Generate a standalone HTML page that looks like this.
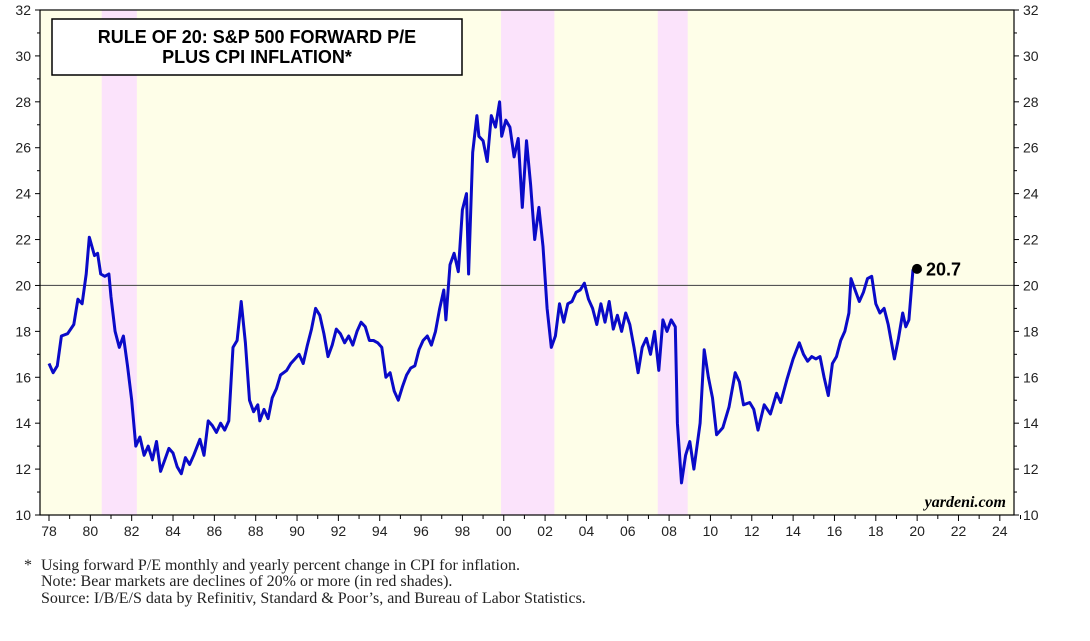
<!DOCTYPE html>
<html><head><meta charset="utf-8">
<style>
body{margin:0;background:#fff;width:1090px;height:636px;overflow:hidden;font-family:"Liberation Sans",sans-serif}
svg text{font-family:"Liberation Sans",sans-serif}
svg text.serif{font-family:"Liberation Serif",serif}
</style></head>
<body>
<svg id="chart" width="1090" height="636" xmlns="http://www.w3.org/2000/svg"></svg>
<script>
const years=[1978.0,1978.2,1978.4,1978.6,1978.9,1979.2,1979.4,1979.6,1979.8,1979.95,1980.2,1980.35,1980.5,1980.7,1980.9,1981.0,1981.2,1981.4,1981.6,1981.8,1982.0,1982.2,1982.4,1982.6,1982.8,1983.0,1983.2,1983.4,1983.6,1983.8,1984.0,1984.2,1984.4,1984.6,1984.8,1985.0,1985.3,1985.5,1985.7,1985.9,1986.1,1986.3,1986.5,1986.7,1986.9,1987.1,1987.3,1987.5,1987.7,1987.9,1988.1,1988.2,1988.4,1988.6,1988.8,1989.0,1989.2,1989.5,1989.7,1989.9,1990.1,1990.3,1990.5,1990.7,1990.9,1991.1,1991.3,1991.5,1991.7,1991.9,1992.1,1992.3,1992.5,1992.7,1992.9,1993.1,1993.3,1993.5,1993.7,1993.9,1994.1,1994.3,1994.5,1994.7,1994.9,1995.1,1995.3,1995.5,1995.7,1995.9,1996.1,1996.3,1996.5,1996.7,1996.9,1997.1,1997.2,1997.4,1997.6,1997.8,1998.0,1998.2,1998.3,1998.5,1998.7,1998.8,1999.0,1999.2,1999.4,1999.6,1999.8,1999.9,2000.1,2000.3,2000.5,2000.7,2000.9,2001.1,2001.3,2001.5,2001.7,2001.9,2002.1,2002.3,2002.5,2002.7,2002.9,2003.1,2003.3,2003.5,2003.7,2003.9,2004.1,2004.3,2004.5,2004.7,2004.9,2005.1,2005.3,2005.5,2005.7,2005.9,2006.1,2006.3,2006.5,2006.7,2006.9,2007.1,2007.3,2007.5,2007.7,2007.9,2008.1,2008.3,2008.4,2008.6,2008.8,2009.0,2009.2,2009.5,2009.7,2009.9,2010.1,2010.3,2010.6,2010.9,2011.2,2011.4,2011.6,2011.9,2012.1,2012.3,2012.6,2012.9,2013.2,2013.4,2013.7,2014.0,2014.3,2014.5,2014.7,2014.9,2015.1,2015.3,2015.5,2015.7,2015.9,2016.1,2016.3,2016.5,2016.7,2016.8,2017.0,2017.2,2017.4,2017.6,2017.8,2018.0,2018.2,2018.4,2018.6,2018.9,2019.1,2019.3,2019.45,2019.6,2019.8];
const values=[16.6,16.2,16.5,17.8,17.9,18.3,19.4,19.2,20.5,22.1,21.3,21.4,20.5,20.4,20.5,19.5,18.0,17.3,17.8,16.5,15.0,13.0,13.4,12.6,13.0,12.4,13.2,11.9,12.4,12.9,12.7,12.1,11.8,12.5,12.2,12.6,13.3,12.6,14.1,13.9,13.6,14.0,13.7,14.1,17.3,17.6,19.3,17.5,15.0,14.5,14.8,14.1,14.6,14.2,15.1,15.5,16.1,16.3,16.6,16.8,17.0,16.6,17.4,18.1,19.0,18.7,17.9,16.9,17.4,18.1,17.9,17.5,17.8,17.4,18.0,18.4,18.2,17.6,17.6,17.5,17.3,16.0,16.2,15.4,15.0,15.6,16.1,16.4,16.5,17.2,17.6,17.8,17.4,18.0,19.0,19.8,18.5,20.9,21.4,20.6,23.3,24.0,20.5,25.8,27.4,26.5,26.3,25.4,27.4,26.9,28.0,26.5,27.2,26.9,25.6,26.4,23.4,26.3,24.4,22.0,23.4,21.7,19.0,17.3,17.8,19.2,18.4,19.2,19.3,19.7,19.8,20.1,19.4,19.0,18.3,19.2,18.4,19.3,18.1,18.7,18.0,18.8,18.3,17.3,16.2,17.3,17.7,17.0,18.0,16.3,18.5,18.0,18.5,18.2,14.0,11.4,12.6,13.2,12.0,14.0,17.2,16.0,15.1,13.5,13.8,14.7,16.2,15.8,14.8,14.9,14.6,13.7,14.8,14.4,15.3,14.9,15.9,16.8,17.5,17.0,16.7,16.9,16.8,16.9,16.0,15.2,16.6,16.9,17.6,18.0,18.8,20.3,19.8,19.3,19.7,20.3,20.4,19.2,18.8,19.0,18.3,16.8,17.7,18.8,18.2,18.5,20.7];
const bearStarts=[1980.55,1999.87,2007.45];
const bearEnds=[1982.25,2002.45,2008.9];
const yTicks=[10,12,14,16,18,20,22,24,26,28,30,32];
const xTickYears=[1978,1980,1982,1984,1986,1988,1990,1992,1994,1996,1998,2000,2002,2004,2006,2008,2010,2012,2014,2016,2018,2020,2022,2024];
const xTickLabels=["78","80","82","84","86","88","90","92","94","96","98","00","02","04","06","08","10","12","14","16","18","20","22","24"];
const lastLabel="20.7";

const L=40,R=1014,T=10,B=515;
const xs=y=>49+(y-1978)*20.67;
const ys=v=>B-(v-10)*(B-T)/22;
const svg=document.getElementById('chart');
const NS='http://www.w3.org/2000/svg';
function mk(tag,attrs,parent){const e=document.createElementNS(NS,tag);for(const k in attrs)e.setAttribute(k,attrs[k]);(parent||svg).appendChild(e);return e;}

const bg=mk('rect',{x:L,y:T,width:R-L,height:B-T,fill:'#fefee8'});


for(let i=0;i<bearStarts.length;i++){
  const r=mk('rect',{x:xs(bearStarts[i]),y:T,width:xs(bearEnds[i])-xs(bearStarts[i]),height:B-T,fill:'#fbe3fb'});
  
  
}
const ref=mk('line',{x1:L,x2:R,y1:ys(20),y2:ys(20),stroke:'#555',"stroke-width":1.2});


yTicks.forEach(v=>{
  const y=ys(v);
  mk('line',{x1:L-5,x2:L,y1:y,y2:y,stroke:'#000'});
  mk('line',{x1:R,x2:R+5,y1:y,y2:y,stroke:'#000'});
  if(v<32){mk('line',{x1:L-3,x2:L,y1:ys(v+1),y2:ys(v+1),stroke:'#000'});mk('line',{x1:R,x2:R+3,y1:ys(v+1),y2:ys(v+1),stroke:'#000'});}
  const t1=mk('text',{x:L-9,y:y+5,"text-anchor":"end","font-size":14,fill:'#222'});t1.textContent=v;
  
  
  const t2=mk('text',{x:R+9,y:y+5,"font-size":14,fill:'#222'});t2.textContent=v;
  
  
});
xTickYears.forEach((yr,i)=>{
  const x=xs(yr);
  mk('line',{x1:x,x2:x,y1:B,y2:B+6,stroke:'#000'});
  mk('line',{x1:xs(yr+1),x2:xs(yr+1),y1:B,y2:B+4,stroke:'#000'});
  const t=mk('text',{x:x,y:B+21,"text-anchor":"middle","font-size":14,fill:'#222'});t.textContent=xTickLabels[i];
  
  
});
const frame=mk('rect',{x:L,y:T,width:R-L,height:B-T,fill:'none',stroke:'#000',"stroke-width":1.2});


let d='';years.forEach((y,i)=>{d+=(i?'L':'M')+xs(y).toFixed(1)+','+ys(values[i]).toFixed(1);});
const line=mk('path',{d:d,fill:'none',stroke:'#0a0ac8',"stroke-width":3,"stroke-linejoin":"round"});


const n=years.length-1;
const dot=mk('circle',{cx:xs(years[n])+4,cy:ys(values[n])-0.5,r:5,fill:'#000'});


const lv=mk('text',{x:xs(years[n])+13,y:ys(values[n])+6,"font-size":18,"font-weight":"bold",fill:'#000'});lv.textContent=lastLabel;


const tb=mk('rect',{x:52,y:19,width:410,height:56,fill:'#fff',stroke:'#000',"stroke-width":1.5});


const t1=mk('text',{x:257,y:43,"text-anchor":"middle","font-size":18,"font-weight":"bold"});t1.textContent='RULE OF 20: S&P 500 FORWARD P/E';


const t2=mk('text',{x:257,y:63,"text-anchor":"middle","font-size":18,"font-weight":"bold"});t2.textContent='PLUS CPI INFLATION*';


const yd=mk('text',{x:1006,y:507,"text-anchor":"end","font-size":16,"font-weight":"bold","font-style":"italic","class":"serif"});yd.textContent='yardeni.com';


const notes=[['*',24,570],['Using forward P/E monthly and yearly percent change in CPI for inflation.',41,570],['Note: Bear markets are declines of 20% or more (in red shades).',41,586],['Source: I/B/E/S data by Refinitiv, Standard & Poor\u2019s, and Bureau of Labor Statistics.',41,603]];
notes.forEach(nn=>{const t=mk('text',{x:nn[1],y:nn[2],"font-size":16,"class":"serif",fill:'#222'});t.textContent=nn[0];

});
</script>
</body></html>
